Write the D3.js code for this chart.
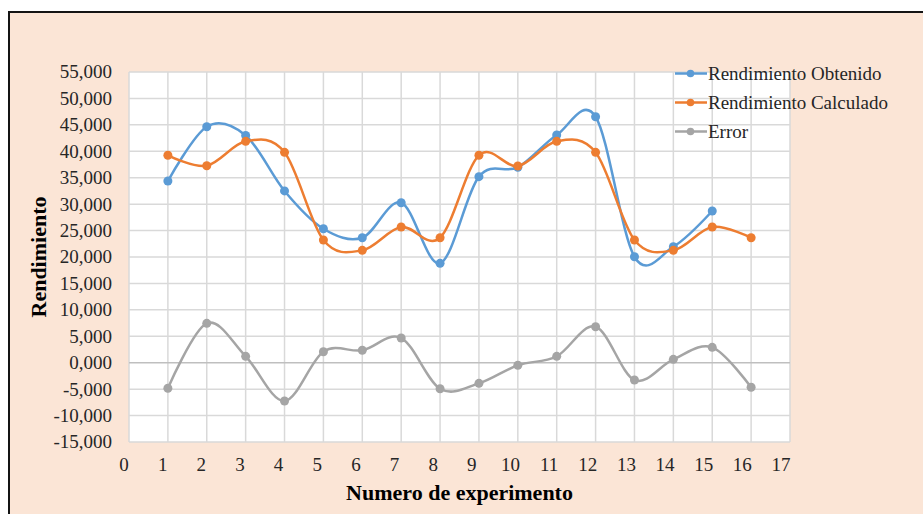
<!DOCTYPE html>
<html>
<head>
<meta charset="utf-8">
<script src="https://cdn.jsdelivr.net/npm/d3@7"></script>
<style>
  html, body { margin: 0; padding: 0; background: #ffffff; }
  svg { display: block; }
</style>
</head>
<body>
<svg id="chart" width="923" height="514"></svg>
<script>
// Experiment numbers on the x axis
const experiments = [1, 2, 3, 4, 5, 6, 7, 8, 9, 10, 11, 12, 13, 14, 15, 16];

// Measured yield (no measurement recorded for experiment 16)
const obtenido = [34.37, 44.65, 43.00, 32.50, 25.35, 23.65, 30.27, 18.80,
                  35.20, 36.96, 43.08, 46.54, 20.05, 21.95, 28.70, null];

// Yield predicted by the model
const calculado = [39.24, 37.27, 41.88, 39.80, 23.21, 21.26, 25.67, 23.65,
                   39.24, 37.21, 41.88, 39.80, 23.21, 21.26, 25.67, 23.65];

// Difference between measured and predicted yield
const errorVals = [-4.84, 7.45, 1.21, -7.25, 2.08, 2.35, 4.67, -4.92,
                   -3.90, -0.49, 1.21, 6.81, -3.27, 0.64, 2.91, -4.65];

const yTicks = [-15, -10, -5, 0, 5, 10, 15, 20, 25, 30, 35, 40, 45, 50, 55];
const xTicks = d3.range(0, 18);

const seriesNames = ["Rendimiento Obtenido", "Rendimiento Calculado", "Error"];
const seriesColors = ["#5B9BD5", "#ED7D31", "#A5A5A5"];

const svg = d3.select("#chart");
const W = 923, H = 514;

// Chart area (peach panel with a dark frame)
svg.append("rect")
  .attr("x", 9).attr("y", 12)
  .attr("width", W + 10).attr("height", H + 10)
  .attr("fill", "#FBE5D6")
  .attr("stroke", "#141414")
  .attr("stroke-width", 2);

const plot = { left: 129, right: 790, top: 72, bottom: 442 };

const x = d3.scaleLinear().domain([0, 17]).range([plot.left, plot.right]);
const y = d3.scaleLinear().domain([-15, 55]).range([plot.bottom, plot.top]);
// tick labels sit slightly left of their gridlines
const xLab = d3.scaleLinear().domain([0, 17]).range([plot.left - 5, plot.right - 9]);

const loc = d3.formatLocale({ decimal: ",", thousands: ".", grouping: [3], currency: ["", ""], minus: "-" });
const fmt = loc.format(".3f");

// Plot area
svg.append("rect")
  .attr("x", plot.left).attr("y", plot.top)
  .attr("width", plot.right - plot.left).attr("height", plot.bottom - plot.top)
  .attr("fill", "#ffffff");

const grid = svg.append("g");
grid.selectAll("line.v").data(xTicks).join("line")
  .attr("x1", d => x(d)).attr("x2", d => x(d))
  .attr("y1", plot.top).attr("y2", plot.bottom)
  .attr("stroke", "#D9D9D9").attr("stroke-width", 1.5);
grid.selectAll("line.h").data(yTicks).join("line")
  .attr("x1", plot.left).attr("x2", plot.right)
  .attr("y1", d => y(d)).attr("y2", d => y(d))
  .attr("stroke", d => d === 0 ? "#BFBFBF" : "#D9D9D9")
  .attr("stroke-width", 1.5);

const serif = "'Liberation Serif', 'Times New Roman', serif";

// Y tick labels
svg.append("g").selectAll("text").data(yTicks).join("text")
  .attr("x", 112).attr("y", d => y(d))
  .attr("dy", "0.34em")
  .attr("text-anchor", "end")
  .attr("font-family", serif).attr("font-size", 19)
  .attr("fill", "#262626")
  .text(d => fmt(d));

// X tick labels
svg.append("g").selectAll("text").data(xTicks).join("text")
  .attr("x", d => xLab(d)).attr("y", plot.bottom + 23)
  .attr("dy", "0.34em")
  .attr("text-anchor", "middle")
  .attr("font-family", serif).attr("font-size", 19)
  .attr("fill", "#262626")
  .text(d => d);

// Axis titles
svg.append("text")
  .attr("transform", `translate(46, ${(plot.top + plot.bottom) / 2}) rotate(-90)`)
  .attr("text-anchor", "middle")
  .attr("font-family", serif).attr("font-size", 22).attr("font-weight", "bold")
  .attr("fill", "#000")
  .text("Rendimiento");

svg.append("text")
  .attr("x", (plot.left + plot.right) / 2).attr("y", 500)
  .attr("text-anchor", "middle")
  .attr("font-family", serif).attr("font-size", 22).attr("font-weight", "bold")
  .attr("fill", "#000")
  .text("Numero de experimento");

// Series
const series = [obtenido, calculado, errorVals].map((vals, i) => ({
  name: seriesNames[i],
  color: seriesColors[i],
  points: experiments.map((e, j) => ({ x: e, v: vals[j] })).filter(p => p.v !== null)
}));

const line = d3.line()
  .x(p => x(p.x)).y(p => y(p.v))
  .curve(d3.curveCatmullRom.alpha(0));

const sg = svg.append("g").selectAll("g").data(series).join("g");
sg.append("path")
  .attr("d", s => line(s.points))
  .attr("fill", "none")
  .attr("stroke", s => s.color)
  .attr("stroke-width", 2.5)
  .attr("stroke-linejoin", "round");
sg.each(function (s) {
  d3.select(this).selectAll("circle").data(s.points).join("circle")
    .attr("cx", p => x(p.x)).attr("cy", p => y(p.v))
    .attr("r", 4.5)
    .attr("fill", s.color);
});

// Legend
const legend = svg.append("g").selectAll("g").data(series).join("g")
  .attr("transform", (s, i) => `translate(675, ${73.5 + i * 29})`);
legend.append("line")
  .attr("x1", 0).attr("x2", 32)
  .attr("stroke", s => s.color).attr("stroke-width", 2.5);
legend.append("circle")
  .attr("cx", 15.5).attr("r", 3.8)
  .attr("fill", s => s.color);
legend.append("text")
  .attr("x", 33).attr("dy", "0.34em")
  .attr("font-family", serif).attr("font-size", 19)
  .attr("fill", "#262626")
  .text(s => s.name);
</script>
</body>
</html>
